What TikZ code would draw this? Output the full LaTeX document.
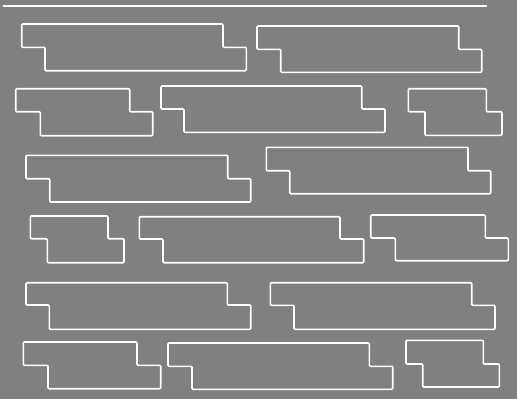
\documentclass[tikz,border=0pt]{standalone}
\usepackage{tikz}
\definecolor{bggray}{HTML}{808080}
\tikzset{brick/.style={draw=white,line width=1.6pt,rounded corners=1pt,line join=round}}

\begin{document}
\begin{tikzpicture}[x=1pt,y=-1pt]
\fill[bggray] (0,0) rectangle (517,399);
\useasboundingbox (0,0) rectangle (517,399);
\coordinate (l0) at (3,6);
\coordinate (l1) at (487,6);
\draw[white,line width=1.6pt] (l0)--(l1);
% x1/ytop/x2/ymid/x3/x4/ybot
\foreach \xa/\ya/\xb/\yb/\xc/\xd/\yc in {
  21.7/24/223/47.3/45/246.3/70.7,
  257/26/458.7/49.3/280.7/481.7/72.3,
  15.7/88.7/129.7/111.7/40.3/152.7/135.7,
  161/86/361.7/109/184/385/132.3,
  408.3/88.7/486.3/111.7/425/502/135.3,
  26/155.3/227.7/178.7/49.7/250.7/202,
  266.3/147.3/468/170.7/289.7/490.7/193.7,
  30.3/216/108/238.7/47.3/124/262.7,
  139.3/216.7/340/239/163/363.7/262.7,
  370.7/215/485.3/238/395.3/508.3/260.7,
  26/282.7/227.3/305/49.3/250.7/329.3,
  270.3/282.7/471.7/305.3/294/495/329.3,
  23.3/342/137/365.3/48/160.7/388.7,
  168/343/369.3/366.3/192/392.7/389.3,
  406/340.3/483.3/364/422.7/499.3/387}
  \draw[brick] (\xa,\ya)--(\xb,\ya)--(\xb,\yb)--(\xd,\yb)--(\xd,\yc)--(\xc,\yc)--(\xc,\yb)--(\xa,\yb)--cycle;
\end{tikzpicture}
\end{document}
